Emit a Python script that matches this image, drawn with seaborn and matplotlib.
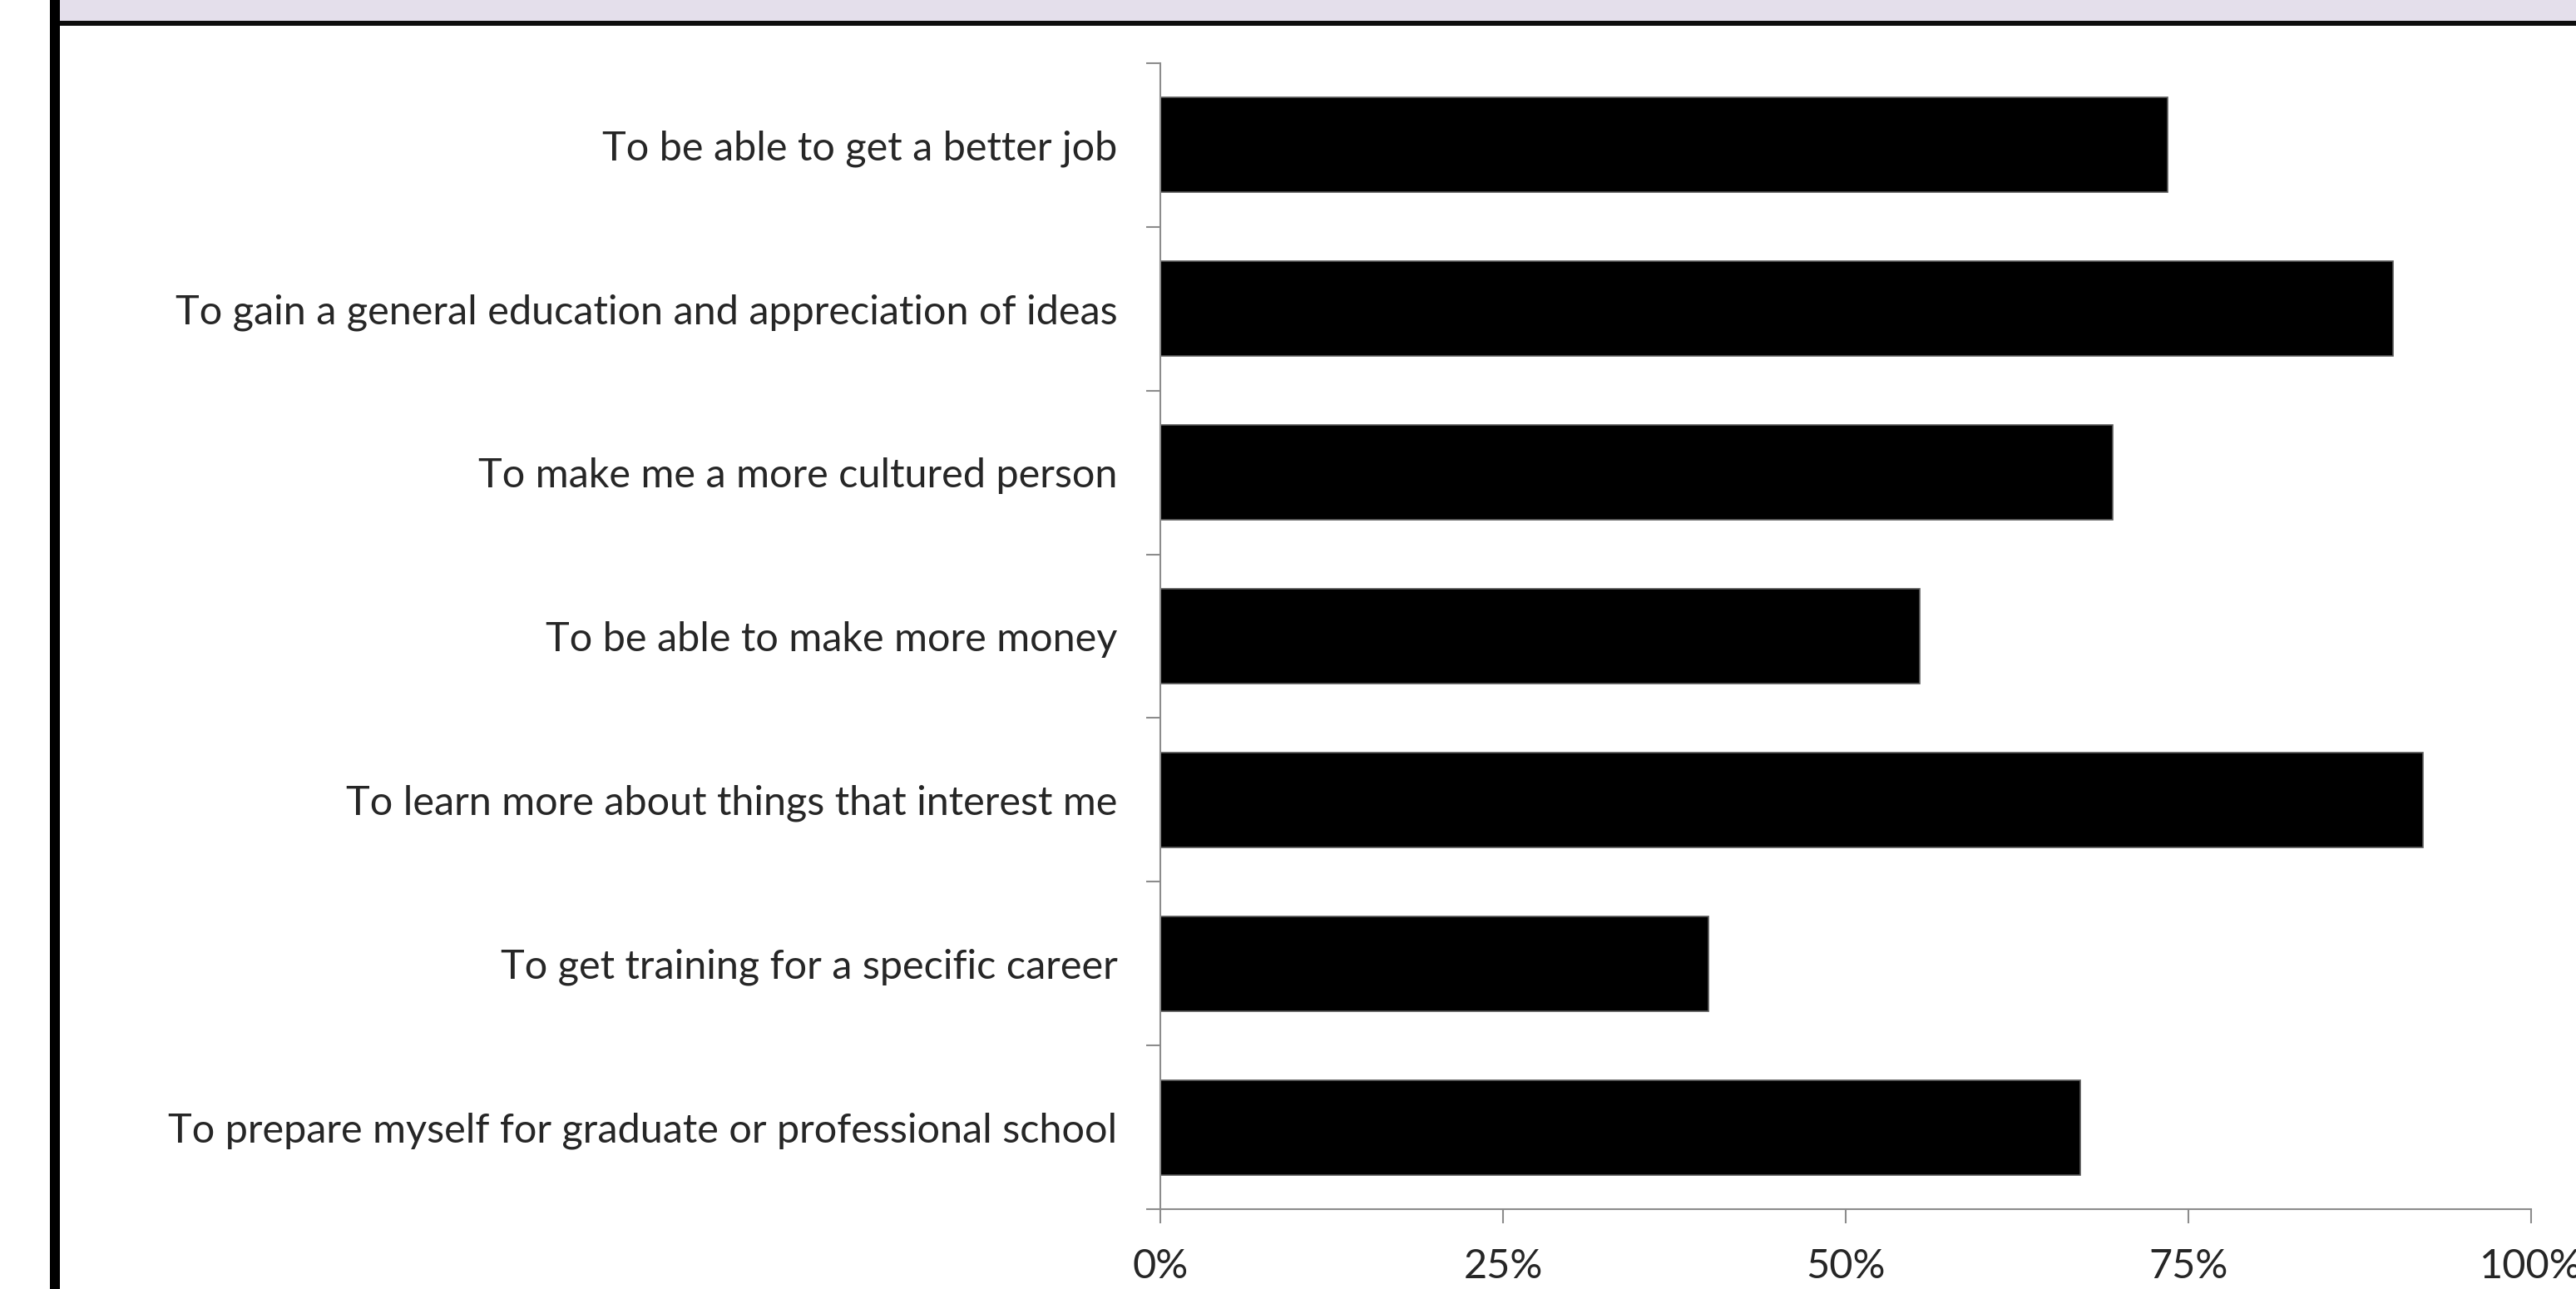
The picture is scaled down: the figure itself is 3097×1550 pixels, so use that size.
import matplotlib
matplotlib.use("Agg")
import matplotlib.pyplot as plt
from matplotlib.patches import Rectangle
from matplotlib.ticker import FixedLocator, PercentFormatter
import seaborn as sns
import pandas as pd

sns.set_style("white")
plt.rcParams['font.family'] = ['Lato', 'DejaVu Sans']

reasons = [
    "To be able to get a better job",
    "To gain a general education and appreciation of ideas",
    "To make me a more cultured person",
    "To be able to make more money",
    "To learn more about things that interest me",
    "To get training for a specific career",
    "To prepare myself for graduate or professional school",
]
percent_very_important = [73.5, 89.9, 69.5, 55.4, 92.1, 40.0, 67.1]
x_ticks = [0, 25, 50, 75, 100]

df = pd.DataFrame({"reason": reasons, "pct": percent_very_important})

fig = plt.figure(figsize=(30.97, 15.5), dpi=100)
ax = fig.add_axes([0.4504, 0.0619, 0.9826 - 0.4504, 0.951 - 0.0619])

sns.barplot(data=df, x="pct", y="reason", orient="h", color="black",
            width=0.58, edgecolor="#5a5a5a", linewidth=1.2, ax=ax)

ax.set_xlim(0, 100)
ax.set_ylim(len(reasons) - 0.5, -0.5)
ax.set_xlabel("")
ax.set_ylabel("")

ax.xaxis.set_major_locator(FixedLocator(x_ticks))
ax.xaxis.set_major_formatter(PercentFormatter(decimals=0))
ax.yaxis.set_minor_locator(FixedLocator([i - 0.5 for i in range(len(reasons) + 1)]))

gray = "#8c8c8c"
for side in ["top", "right"]:
    ax.spines[side].set_visible(False)
for side in ["left", "bottom"]:
    ax.spines[side].set_color(gray)
    ax.spines[side].set_linewidth(1.5)

ax.tick_params(axis="x", which="major", direction="out", length=12, width=1.5,
               color=gray, pad=22, labelsize=35, bottom=True)
ax.tick_params(axis="y", which="major", length=0, pad=37, labelsize=35)
ax.tick_params(axis="y", which="minor", direction="out", length=12, width=1.5,
               color=gray, left=True)
ax.grid(False)

# page decorations: lavender header band, black rule, left black bar
fig.patches.append(Rectangle((72 / 3097, 1 - 25 / 1550), 1, 25 / 1550,
                             transform=fig.transFigure, facecolor="#e4dfeb",
                             edgecolor="none", zorder=0))
fig.patches.append(Rectangle((72 / 3097, 1 - 31 / 1550), 1, 6 / 1550,
                             transform=fig.transFigure, facecolor="#0d0d0d",
                             edgecolor="none", zorder=1))
fig.patches.append(Rectangle((60 / 3097, 0), 12 / 3097, 1,
                             transform=fig.transFigure, facecolor="black",
                             edgecolor="none", zorder=1))

fig.savefig("out.png", dpi=100)
